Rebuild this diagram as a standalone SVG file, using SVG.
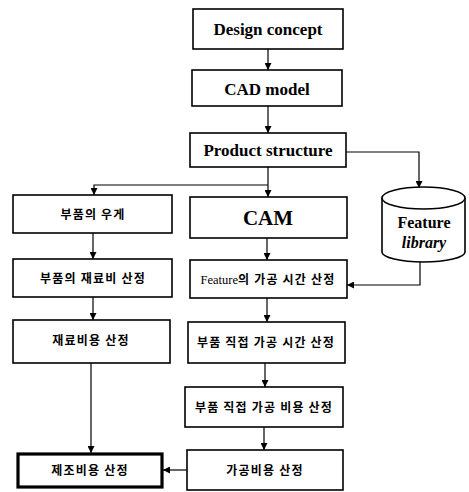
<svg xmlns="http://www.w3.org/2000/svg" width="469" height="492" viewBox="0 0 469 492">
<style>
.b{fill:#fff;stroke:#000;stroke-width:1.6}
.t{fill:#000;font-family:"Liberation Serif",serif;font-weight:bold;text-anchor:middle}
.k{fill:#000;font-family:"Noto Sans CJK KR",sans-serif;font-weight:bold;font-size:12px;letter-spacing:1.2px;text-anchor:middle}
.c{fill:none;stroke:#000;stroke-width:1.2}
</style>
<defs>
<marker id="a" viewBox="0 0 10 10" refX="10" refY="5" markerWidth="7" markerHeight="7" markerUnits="userSpaceOnUse" orient="auto"><path d="M0,0L10,5L0,10z" fill="#000"/></marker>
</defs>
<rect width="469" height="492" fill="#fff"/>
<g id="connectors">
<path class="c" d="M268,49V70" marker-end="url(#a)"/>
<path class="c" d="M268,106V133" marker-end="url(#a)"/>
<path class="c" d="M268,167V197" marker-end="url(#a)"/>
<path class="c" d="M268,185H94V195" marker-end="url(#a)"/>
<path class="c" d="M346,152H419V188" marker-end="url(#a)"/>
<path class="c" d="M93,233V259" marker-end="url(#a)"/>
<path class="c" d="M93,297V320" marker-end="url(#a)"/>
<path class="c" d="M267,238V260" marker-end="url(#a)"/>
<path class="c" d="M420,262V285H347" marker-end="url(#a)"/>
<path class="c" d="M267,298V322" marker-end="url(#a)"/>
<path class="c" d="M265,363V387" marker-end="url(#a)"/>
<path class="c" d="M264,427V450" marker-end="url(#a)"/>
<path class="c" d="M91,363V453" marker-end="url(#a)"/>
<path class="c" d="M187,470H163" marker-end="url(#a)"/>
</g>
<g id="design"><rect class="b" x="193" y="9" width="150" height="40"/><text class="t" x="268" y="35" font-size="17">Design concept</text></g>
<g id="cad"><rect class="b" x="192" y="70" width="150" height="36"/><text class="t" x="267" y="95" font-size="17">CAD model</text></g>
<g id="product"><rect class="b" x="190" y="133" width="156" height="34"/><text class="t" x="268" y="156" font-size="17">Product structure</text></g>
<g id="weight"><rect class="b" x="13" y="195" width="159" height="38"/><text class="k" x="93" y="219">부품의 우게</text></g>
<g id="matcost"><rect class="b" x="13" y="259" width="159" height="38"/><text class="k" x="93" y="283">부품의 재료비 산정</text></g>
<g id="matfee"><rect class="b" x="13" y="320" width="157" height="43"/><text class="k" x="91" y="345">재료비용 산정</text></g>
<g id="mfg"><rect x="18" y="454" width="144" height="33" fill="#fff" stroke="#000" stroke-width="3.2"/><text class="k" x="90" y="475">제조비용 산정</text></g>
<g id="cam"><rect class="b" x="190" y="197" width="157" height="41"/><text class="t" x="268" y="225" font-size="21">CAM</text></g>
<g id="feattime"><rect class="b" x="190" y="260" width="157" height="38"/><text class="k" x="268" y="284" letter-spacing="0.6"><tspan font-family="Liberation Serif,serif" font-weight="normal" font-size="12.5" letter-spacing="0">Feature</tspan>의 가공 시간 산정</text></g>
<g id="parttime"><rect class="b" x="188" y="322" width="157" height="41"/><text class="k" x="266" y="347">부품 직접 가공 시간 산정</text></g>
<g id="partcost"><rect class="b" x="185" y="387" width="158" height="40"/><text class="k" x="264" y="412">부품 직접 가공 비용 산정</text></g>
<g id="proccost"><rect class="b" x="187" y="450" width="156" height="40"/><text class="k" x="265" y="475">가공비용 산정</text></g>
<g id="library">
<path class="b" d="M382,198V252A41.5,10 0 0 0 465,252V198"/>
<ellipse class="b" cx="423.5" cy="198" rx="41.5" ry="11"/>
<text class="t" x="424" y="228" font-size="16">Feature</text>
<text class="t" x="424" y="248" font-size="16" font-style="italic">library</text>
</g>
</svg>
